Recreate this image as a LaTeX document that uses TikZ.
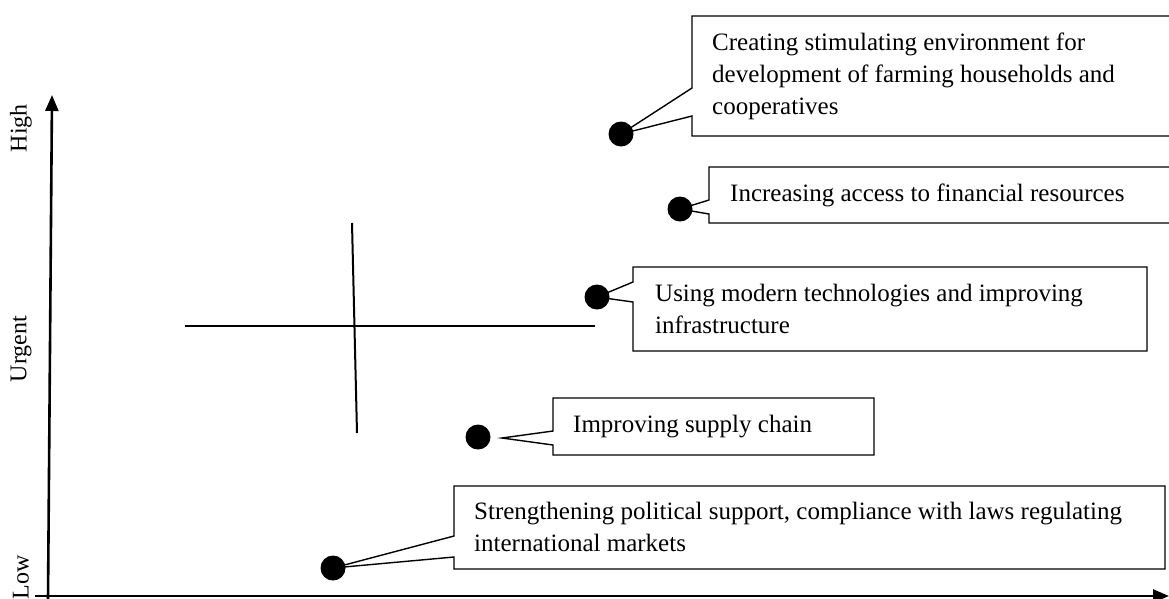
\documentclass[tikz,border=0pt]{standalone}
\usepackage{fontspec}
\setmainfont{Liberation Serif}
\usetikzlibrary{arrows.meta}
% callout outline: left, top, right, bottom, notch top y, notch bottom y, tip
\newcommand{\calloutbox}[7]{%
  \draw[callout] (#1,#2) -- (#3,#2) -- (#3,#4) -- (#1,#4) -- (#1,#6) -- (#7) -- (#1,#5) -- cycle;}
\begin{document}
\begin{tikzpicture}[x=1pt,y=-1pt,
  lbl/.style={anchor=west, inner sep=0pt, font=\fontsize{25}{32}\selectfont, align=left},
  axlbl/.style={rotate=90, inner sep=0pt, font=\fontsize{24}{28}\selectfont},
  dot/.style={circle, fill=black, minimum size=25pt, inner sep=0pt},
  callout/.style={draw=black, line width=1.4pt, fill=white, line join=miter},
  axis/.style={line width=2.6pt, -{Triangle[length=16pt,width=13pt]}},
  cross/.style={line width=2pt},
]
\useasboundingbox (0,0) rectangle (1169,598);
\clip (0,0) rectangle (1169,598);

% axes
\coordinate (yb) at (48,600);
\coordinate (yt) at (52,95);
\coordinate (xl) at (35,596);
\coordinate (xr) at (1169,596);
\draw[axis] (yb) -- (yt);
\draw[axis] (xl) -- (xr);

\node[axlbl] (high) at (21,128) {High};
\node[axlbl] (urgent) at (21,349) {Urgent};
\node[axlbl] (low) at (21,577) {Low};

% quadrant cross
\coordinate (vt) at (352,223);
\coordinate (vb) at (357,433);
\coordinate (hl) at (185,326);
\coordinate (hr) at (595,326);
\draw[cross] (hl) -- (hr);
\draw[cross] (vt) -- (vb);

% points
\coordinate (p1) at (621,134);
\coordinate (p2) at (680,209);
\coordinate (p3) at (597,297);
\coordinate (p4) at (478,437);
\coordinate (p5) at (333,568);
\coordinate (t4) at (502,438);

% callouts
\calloutbox{692}{16}{1185}{136}{88}{116}{p1}
\calloutbox{709}{167}{1185}{223}{200}{214}{p2}
\calloutbox{633}{267}{1147}{351}{282}{302}{p3}
\calloutbox{553}{398}{874}{455}{431}{445}{t4}
\calloutbox{454}{486}{1165}{569}{536}{557}{p5}

\node[dot] (d1) at (p1) {};
\node[dot] (d2) at (p2) {};
\node[dot] (d3) at (p3) {};
\node[dot] (d4) at (p4) {};
\node[dot] (d5) at (p5) {};

\node[lbl] (l1) at (712,76) {Creating stimulating environment for\\development of farming households and\\cooperatives};
\node[lbl] (l2) at (730,195) {Increasing access to financial resources};
\node[lbl] (l3) at (655,309) {Using modern technologies and improving\\infrastructure};
\node[lbl] (l4) at (573,427) {Improving supply chain};
\node[lbl] (l5) at (474,527) {Strengthening political support, compliance with laws regulating\\international markets};
\end{tikzpicture}
\end{document}
